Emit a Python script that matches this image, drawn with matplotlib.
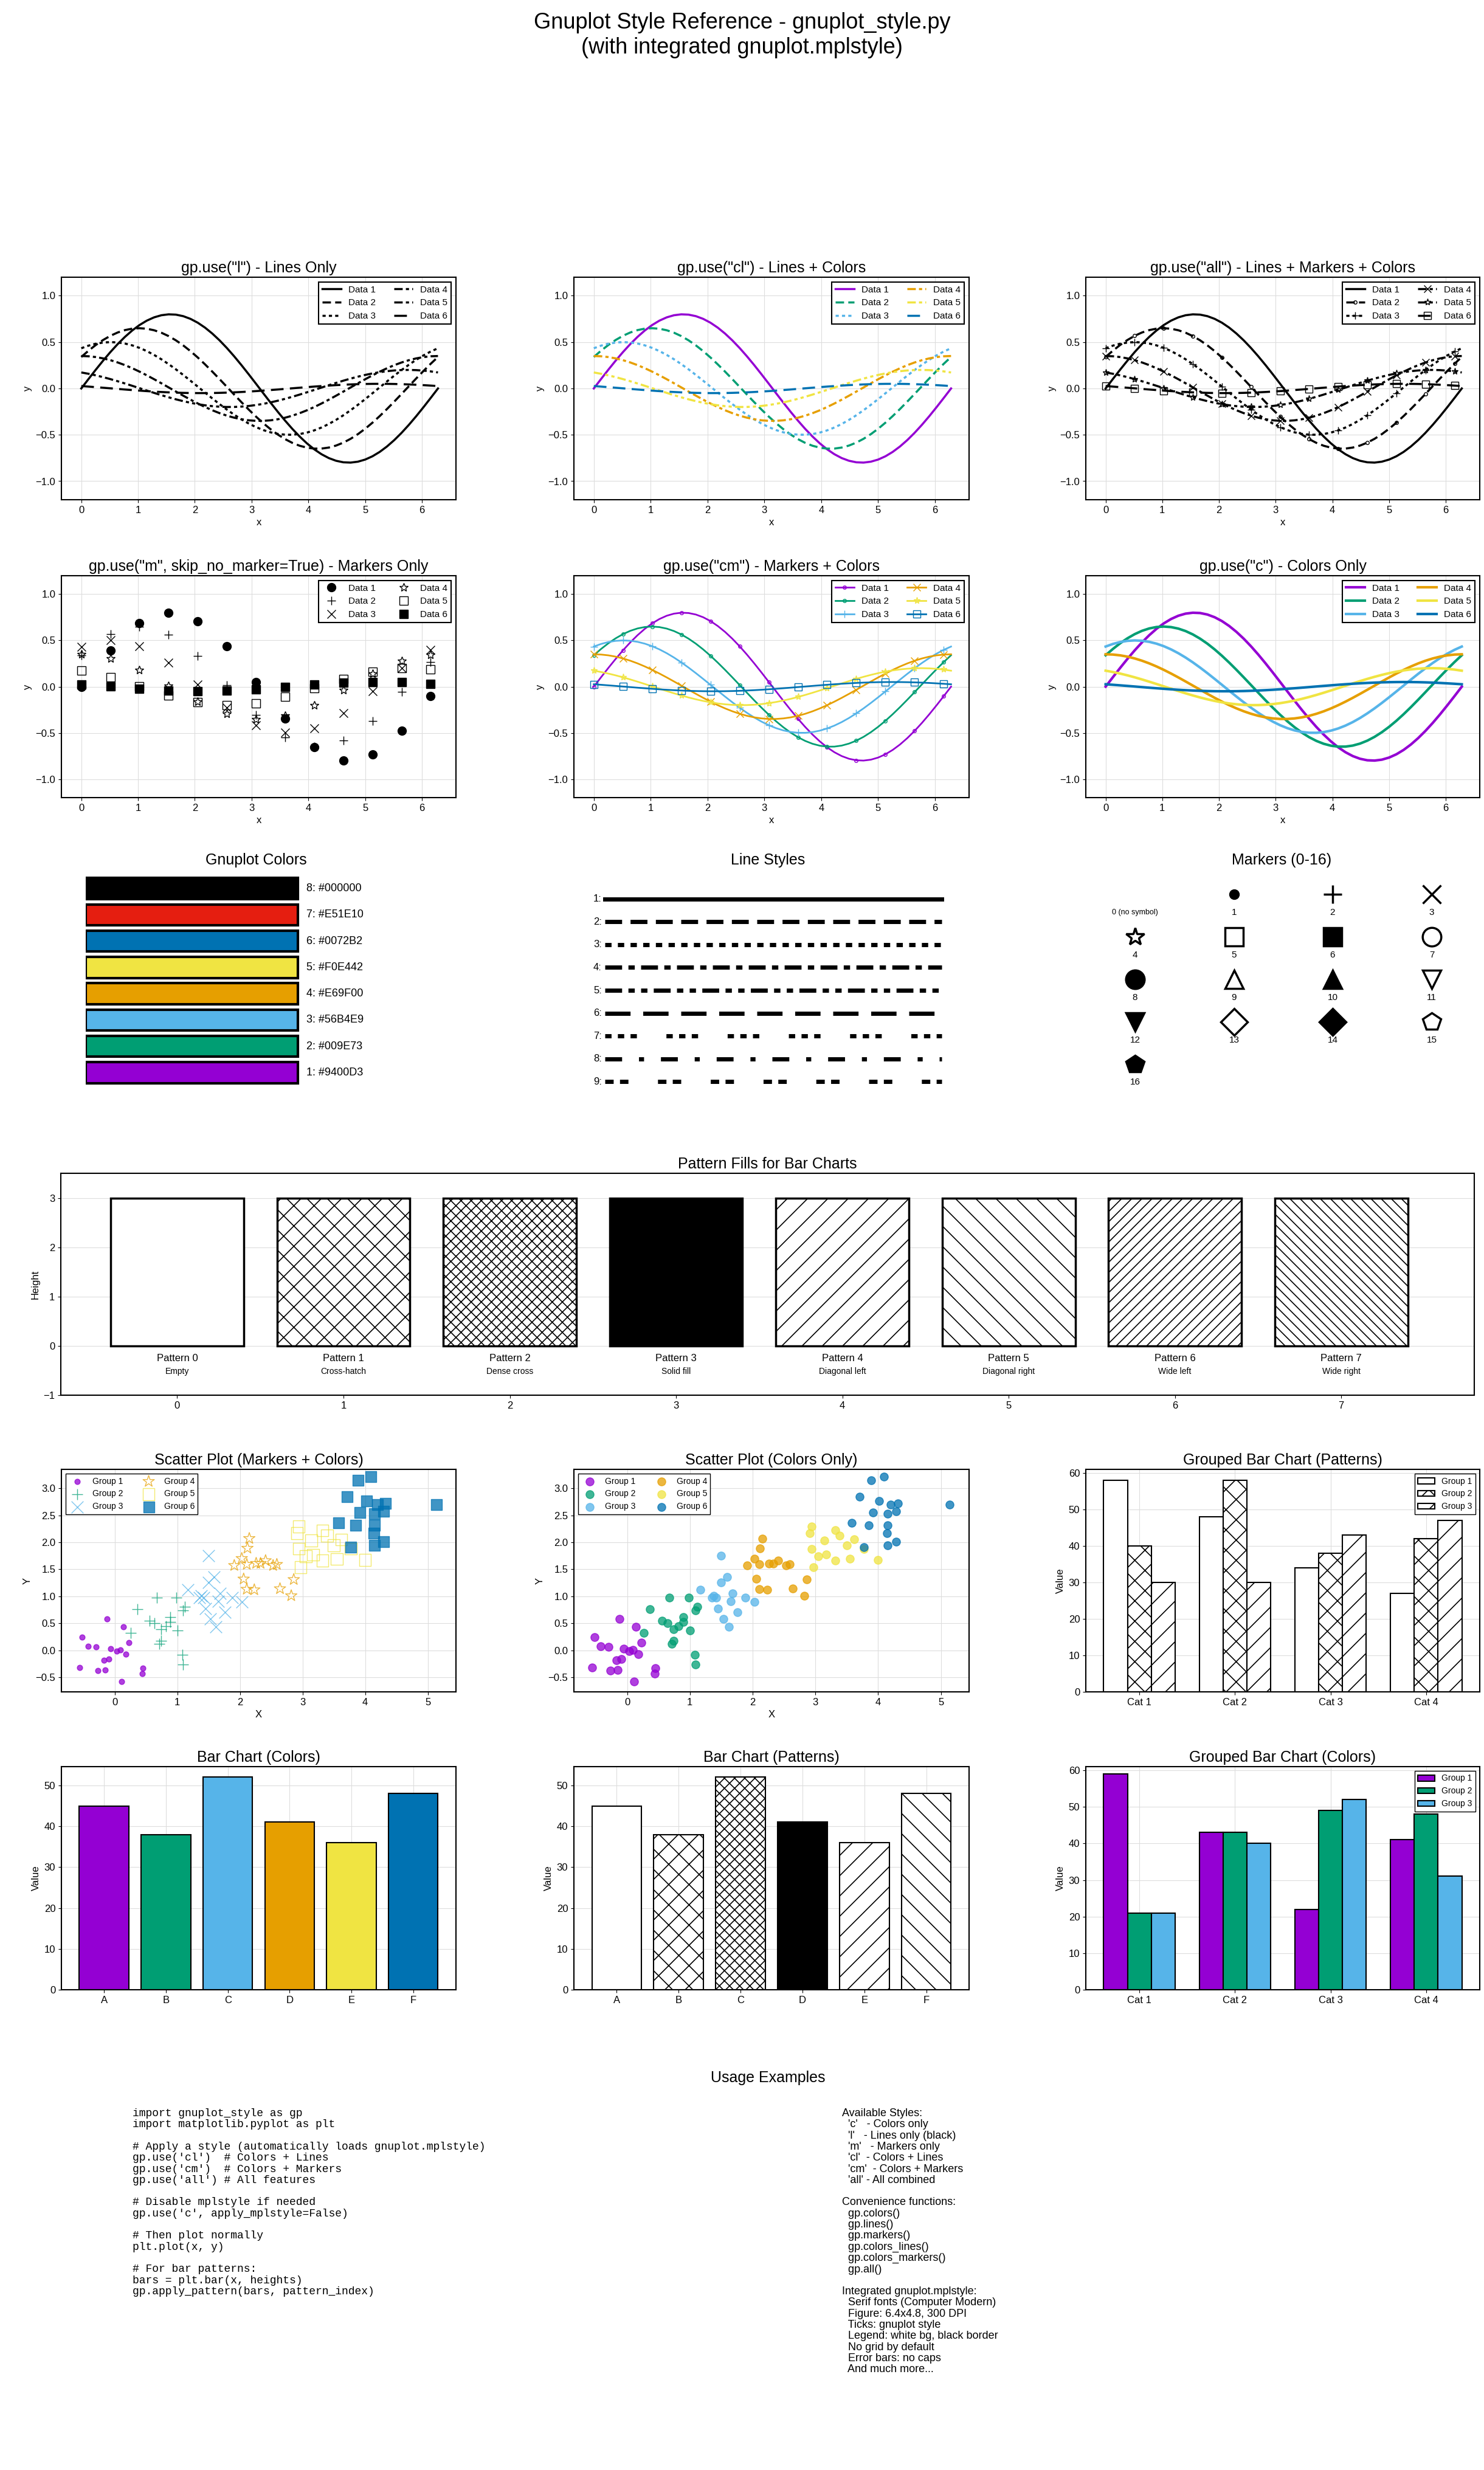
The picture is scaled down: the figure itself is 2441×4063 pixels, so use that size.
import matplotlib
matplotlib.use("Agg")
import matplotlib.pyplot as plt
import numpy as np

plt.rcParams['font.family'] = ['Liberation Sans', 'DejaVu Sans']
plt.rcParams['hatch.linewidth'] = 1.2

W, H = 2441, 4063
fig = plt.figure(figsize=(W / 100, H / 100), dpi=100)


def fax(x0, y0, x1, y1):
    return fig.add_axes([x0 / W, 1 - y1 / H, (x1 - x0) / W, (y1 - y0) / H])


# ---- data ----
gp_colors = ['#9400D3', '#009E73', '#56B4E9', '#E69F00', '#F0E442', '#0072B2', '#E51E10', '#000000']
amps = [0.8, 0.65, 0.5, 0.35, 0.2, 0.05]
phases = [0.0, 0.55, 1.05, 1.57, 2.1, 2.6]
series_names = ['Data 1', 'Data 2', 'Data 3', 'Data 4', 'Data 5', 'Data 6']

dashes = [(None), (4, 2), (1.5, 1.5), (4, 1.5, 1.5, 1.5), (4, 1.5, 1.5, 1.5, 1.5, 1.5), (6, 3)]
ls_dashes = [None, (4, 2), (1.5, 1.5), (4, 1.5, 1.5, 1.5), (4, 1.5, 1.5, 1.5, 1.5, 1.5),
             (6, 3), (1.5, 1.5, 1.5, 1.5, 1.5, 7), (4, 4, 1.2, 4), (2, 1.5, 2, 7)]
mark_all = [None, '.', '+', 'x', '*', 's']
mark_m = ['o', '+', 'x', '*', 's', 's']
mark_m_fill = [True, True, True, False, False, True]

gx = [[-0.12, 0.14, -0.52, -0.42, -0.30, -0.06, 0.09, 0.23, 0.03, -0.09, -0.17, 0.18, -0.56, -0.27, -0.15, 0.45, 0.44, 0.11],
      [0.98, 0.67, 0.36, 0.56, 0.64, 0.82, 0.89, 1.12, 1.09, 0.89, 0.74, 1.0, 0.26, 0.74, 0.71, 1.08, 1.09],
      [1.5, 1.59, 1.5, 1.17, 1.38, 1.42, 1.68, 1.88, 2.03, 1.65, 1.45, 1.53, 1.62, 1.76, 1.35],
      [2.15, 2.12, 2.03, 1.91, 2.11, 2.26, 2.41, 2.59, 2.33, 2.53, 2.06, 2.11, 2.23, 2.64, 2.86, 2.82],
      [2.94, 2.91, 3.14, 3.32, 3.39, 3.50, 3.62, 2.94, 3.05, 3.17, 3.32, 3.55, 3.77, 4.0, 2.97],
      [3.89, 4.09, 3.71, 4.02, 4.20, 4.32, 4.29, 4.15, 3.92, 3.58, 3.85, 4.15, 4.14, 3.77, 4.15, 4.29, 5.14]]
gy = [[0.58, 0.43, 0.24, 0.07, 0.06, 0.03, 0.01, 0.14, -0.02, -0.16, -0.19, -0.07, -0.32, -0.38, -0.37, -0.33, -0.43, -0.58],
      [0.97, 0.97, 0.76, 0.55, 0.50, 0.45, 0.62, 0.81, 0.74, 0.53, 0.39, 0.37, 0.32, 0.17, 0.12, -0.08, -0.26],
      [1.75, 1.36, 1.26, 1.12, 1.01, 0.97, 1.05, 0.98, 0.90, 0.91, 0.77, 0.58, 0.43, 0.70, 0.97],
      [2.07, 1.89, 1.70, 1.57, 1.59, 1.61, 1.66, 1.59, 1.61, 1.57, 1.32, 1.13, 1.12, 1.14, 1.31, 1.01],
      [2.29, 2.17, 2.03, 2.22, 2.12, 1.94, 2.05, 1.88, 1.74, 1.77, 1.66, 1.69, 1.88, 1.67, 1.54],
      [3.15, 3.21, 2.84, 2.77, 2.70, 2.72, 2.57, 2.53, 2.55, 2.36, 2.31, 2.32, 2.17, 1.91, 1.94, 2.01, 2.70]]

bar_labels = ['A', 'B', 'C', 'D', 'E', 'F']
bar_vals = [45, 38, 52, 41, 36, 48]
cats = ['Cat 1', 'Cat 2', 'Cat 3', 'Cat 4']
grp_pat = [[58, 48, 34, 27], [40, 58, 38, 42], [30, 30, 43, 47]]
grp_col = [[59, 43, 22, 41], [21, 43, 49, 48], [21, 40, 52, 31]]
hatches = ['', 'x', 'xx', None, '/', '\\', '//', '\\\\']
pat_desc = ['Empty', 'Cross-hatch', 'Dense cross', 'Solid fill', 'Diagonal left',
            'Diagonal right', 'Wide left', 'Wide right']

x = np.linspace(0, 2 * np.pi, 50)
curves = [a * np.sin(x + p) for a, p in zip(amps, phases)]

TF, TK, LF = 18, 12, 11


def style(ax, title):
    ax.set_title(title, fontsize=TF)
    ax.grid(True, color='#dddddd', lw=0.8)
    ax.set_axisbelow(True)
    ax.tick_params(labelsize=TK)
    for s in ax.spines.values():
        s.set_linewidth(1.5)


def line_ax(box, title, mode):
    ax = fax(*box)
    for i, y in enumerate(curves):
        kw = dict(lw=2.5, label=series_names[i])
        c = gp_colors[i] if 'c' in mode else 'black'
        if mode in ('l', 'cl', 'all') and i > 0:
            kw['dashes'] = dashes[i]
        if mode == 'all' and mark_all[i]:
            kw.update(marker=mark_all[i], markevery=4, markersize=8, mfc='none')
        if mode == 'cm':
            kw.update(marker=mark_all[i] or '.', markevery=4, markersize=8, mfc='none', lw=2)
        if mode == 'c':
            kw['lw'] = 3
        if mode == 'm':
            ax.plot(x[::4], y[::4], ls='none', marker=mark_m[i], color='black', markersize=10,
                    mfc='black' if mark_m_fill[i] else 'none', label=series_names[i])
            continue
        ax.plot(x, y, color=c, **kw)
    ax.set_ylim(-1.2, 1.2)
    ax.set_xlim(-0.35, 6.6)
    ax.set_xlabel('x', fontsize=TK)
    ax.set_ylabel('y', fontsize=TK)
    leg = ax.legend(ncol=2, loc='upper right', fontsize=LF, fancybox=False, edgecolor='black',
                    framealpha=1)
    leg.get_frame().set_linewidth(1.5)
    style(ax, title)


fig.suptitle('Gnuplot Style Reference - gnuplot_style.py\n(with integrated gnuplot.mplstyle)',
             fontsize=26, y=0.995)

cols = [(101, 750), (944, 1594), (1786, 2434)]
r1, r2 = (456, 822), (947, 1312)
line_ax((cols[0][0], r1[0], cols[0][1], r1[1]), 'gp.use("l") - Lines Only', 'l')
line_ax((cols[1][0], r1[0], cols[1][1], r1[1]), 'gp.use("cl") - Lines + Colors', 'cl')
line_ax((cols[2][0], r1[0], cols[2][1], r1[1]), 'gp.use("all") - Lines + Markers + Colors', 'all')
line_ax((cols[0][0], r2[0], cols[0][1], r2[1]), 'gp.use("m", skip_no_marker=True) - Markers Only', 'm')
line_ax((cols[1][0], r2[0], cols[1][1], r2[1]), 'gp.use("cm") - Markers + Colors', 'cm')
line_ax((cols[2][0], r2[0], cols[2][1], r2[1]), 'gp.use("c") - Colors Only', 'c')

# ---- colors swatches ----
ax = fax(141, 1440, 741, 1786)
order = [7, 6, 5, 4, 3, 2, 1, 0]
for row, ci in enumerate(order):
    ax.barh(row, 1, height=0.8, color=gp_colors[ci], edgecolor='black', lw=3)
    ax.text(1.04, row, f'{ci + 1}: {gp_colors[ci]}', va='center', fontsize=13)
ax.set_xlim(0, 1.72)
ax.set_ylim(7.5, -0.5)
ax.axis('off')
fig.text(421 / W, 1 - 1415 / H, 'Gnuplot Colors', ha='center', va='center', fontsize=TF)

# ---- line styles ----
ax = fax(940, 1460, 1560, 1798)
for i, d in enumerate(ls_dashes):
    kw = {} if d is None else {'dashes': d}
    ax.plot([0, 1], [i, i], color='black', lw=5, **kw)
    ax.text(-0.01, i, f'{i + 1}:', ha='right', va='center', fontsize=12)
ax.set_xlim(-0.1, 1.02)
ax.set_ylim(8.5, -0.5)
ax.axis('off')
fig.text(1263 / W, 1 - 1415 / H, 'Line Styles', ha='center', va='center', fontsize=TF)

# ---- markers ----
ax = fax(1786, 1440, 2434, 1800)
mk = [None, 'o', '+', 'x', '*', 's', 's', 'o', 'o', '^', '^', 'v', 'v', 'D', 'D', 'p', 'p']
mk_fill = [False, True, True, True, False, False, True, False, True, False, True, False, True,
           False, True, False, True]
mk_size = [0, 10, 22, 22, 22, 22, 22, 22, 22, 22, 22, 22, 22, 22, 22, 22, 22]
colx = [1867, 2030, 2192, 2355]
for n in range(17):
    c, r = n % 4, n // 4
    px = (colx[c] - 1786) / 648
    if mk[n]:
        ax.plot(px, r, marker=mk[n], color='black', ms=mk_size[n], mew=2.5,
                mfc='black' if mk_fill[n] else 'white', ls='none')
    ax.text(px, r + 0.42, '0 (no symbol)' if n == 0 else str(n), ha='center', va='center',
            fontsize=9 if n == 0 else 11)
ax.set_xlim(0, 1)
ax.set_ylim(4.7, -0.45)
ax.axis('off')
fig.text(2108 / W, 1 - 1415 / H, 'Markers (0-16)', ha='center', va='center', fontsize=TF)

# ---- pattern fills ----
ax = fax(100, 1930, 2425, 2295)
for i, h in enumerate(hatches):
    if h is None:
        ax.bar(i, 3, width=0.8, color='black', edgecolor='black', lw=2.5)
    else:
        ax.bar(i, 3, width=0.8, color='white', edgecolor='black', hatch=h, lw=2.5)
    ax.text(i, -0.25, f'Pattern {i}', ha='center', va='center', fontsize=12)
    ax.text(i, -0.52, pat_desc[i], ha='center', va='center', fontsize=10)
ax.set_xlim(-0.7, 7.8)
ax.set_ylim(-1, 3.5)
ax.set_xticks(range(8))
ax.set_yticks([-1, 0, 1, 2, 3])
ax.set_ylabel('Height', fontsize=TK)
style(ax, 'Pattern Fills for Bar Charts')
ax.grid(axis='x', visible=False)

r5, r6 = (2417, 2783), (2906, 3273)

# ---- scatter markers+colors ----
ax = fax(cols[0][0], r5[0], cols[0][1], r5[1])
for i in range(6):
    fill = gp_colors[i] if mark_m_fill[i] else 'none'
    ax.scatter(gx[i], gy[i], marker=mark_m[i], s=[40, 160, 200, 200, 200, 160][i],
               c=fill if fill != 'none' else 'none', edgecolors=gp_colors[i],
               alpha=0.75, lw=1, label=f'Group {i + 1}')
ax.set_xlabel('X', fontsize=TK)
ax.set_ylabel('Y', fontsize=TK)
ax.set_xlim(-0.85, 5.45)
ax.set_ylim(-0.77, 3.35)
leg = ax.legend(ncol=2, loc='upper left', fontsize=10, fancybox=False, edgecolor='black',
                framealpha=1)
style(ax, 'Scatter Plot (Markers + Colors)')

# ---- scatter colors only ----
ax = fax(cols[1][0], r5[0], cols[1][1], r5[1])
for i in range(6):
    ax.scatter(gx[i], gy[i], s=90, color=gp_colors[i], alpha=0.75, label=f'Group {i + 1}')
ax.set_xlabel('X', fontsize=TK)
ax.set_ylabel('Y', fontsize=TK)
ax.set_xlim(-0.85, 5.45)
ax.set_ylim(-0.77, 3.35)
ax.legend(ncol=2, loc='upper left', fontsize=10, fancybox=False, edgecolor='black', framealpha=1)
style(ax, 'Scatter Plot (Colors Only)')

# ---- grouped bars patterns ----
xc = np.arange(len(cats))
ax = fax(cols[2][0], r5[0], cols[2][1], r5[1])
for g, h in enumerate(['', 'x', '/']):
    ax.bar(xc + (g - 1) * 0.25, grp_pat[g], 0.25, color='white', edgecolor='black', hatch=h,
           lw=1.5, label=f'Group {g + 1}')
ax.set_xticks(xc, cats)
ax.set_ylabel('Value', fontsize=TK)
ax.set_ylim(0, 61)
ax.legend(loc='upper right', fontsize=10, fancybox=False, edgecolor='black', framealpha=1)
style(ax, 'Grouped Bar Chart (Patterns)')

# ---- bar colors ----
ax = fax(cols[0][0], r6[0], cols[0][1], r6[1])
ax.bar(bar_labels, bar_vals, color=gp_colors[:6], edgecolor='black', lw=1.5)
ax.set_ylabel('Value', fontsize=TK)
ax.set_ylim(0, 54.6)
style(ax, 'Bar Chart (Colors)')

# ---- bar patterns ----
ax = fax(cols[1][0], r6[0], cols[1][1], r6[1])
for i, v in enumerate(bar_vals):
    h = hatches[i]
    if h is None:
        ax.bar(bar_labels[i], v, color='black', edgecolor='black', lw=1.5)
    else:
        ax.bar(bar_labels[i], v, color='white', edgecolor='black', hatch=h, lw=1.5)
ax.set_ylabel('Value', fontsize=TK)
ax.set_ylim(0, 54.6)
style(ax, 'Bar Chart (Patterns)')

# ---- grouped bars colors ----
ax = fax(cols[2][0], r6[0], cols[2][1], r6[1])
for g in range(3):
    ax.bar(xc + (g - 1) * 0.25, grp_col[g], 0.25, color=gp_colors[g], edgecolor='black',
           lw=1.5, label=f'Group {g + 1}')
ax.set_xticks(xc, cats)
ax.set_ylabel('Value', fontsize=TK)
ax.set_ylim(0, 61)
ax.legend(loc='upper right', fontsize=10, fancybox=False, edgecolor='black', framealpha=1)
style(ax, 'Grouped Bar Chart (Colors)')

# ---- usage text ----
code = """import gnuplot_style as gp
import matplotlib.pyplot as plt

# Apply a style (automatically loads gnuplot.mplstyle)
gp.use('cl')  # Colors + Lines
gp.use('cm')  # Colors + Markers
gp.use('all') # All features

# Disable mplstyle if needed
gp.use('c', apply_mplstyle=False)

# Then plot normally
plt.plot(x, y)

# For bar patterns:
bars = plt.bar(x, heights)
gp.apply_pattern(bars, pattern_index)"""

notes = """Available Styles:
  'c'   - Colors only
  'l'   - Lines only (black)
  'm'   - Markers only
  'cl'  - Colors + Lines
  'cm'  - Colors + Markers
  'all' - All combined

Convenience functions:
  gp.colors()
  gp.lines()
  gp.markers()
  gp.colors_lines()
  gp.colors_markers()
  gp.all()

Integrated gnuplot.mplstyle:
  Serif fonts (Computer Modern)
  Figure: 6.4x4.8, 300 DPI
  Ticks: gnuplot style
  Legend: white bg, black border
  No grid by default
  Error bars: no caps
  And much more..."""

fig.text(1263 / W, 1 - 3418 / H, 'Usage Examples', ha='center', va='center', fontsize=TF)
fig.text(218 / W, 1 - 3468 / H, code, ha='left', va='top', fontsize=13,
         family=['Liberation Mono', 'DejaVu Sans Mono'], linespacing=1.1)
fig.text(1385 / W, 1 - 3468 / H, notes, ha='left', va='top', fontsize=13, linespacing=1.1)

fig.savefig('out.png', dpi=100)
